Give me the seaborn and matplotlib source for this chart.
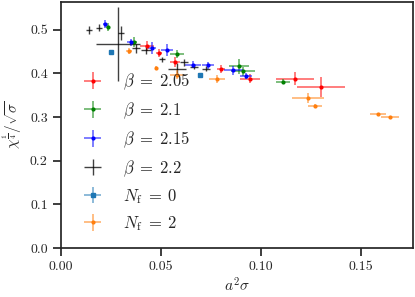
import numpy as np
import matplotlib
matplotlib.use("Agg")
import matplotlib.pyplot as plt
import matplotlib.colors as mcolors
import seaborn as sns

# === data ===
# beta = 2.05
x_205 = [0.043, 0.0488, 0.0571, 0.080, 0.0946, 0.117, 0.130]
y_205 = [0.463, 0.446, 0.426, 0.411, 0.388, 0.388, 0.369]
xe_205 = [0.0033, 0.0015, 0.0025, 0.002, 0.005, 0.0093, 0.0122]
ye_205 = [0.012, 0.009, 0.011, 0.009, 0.010, 0.015, 0.022]

# beta = 2.1
x_21 = [0.0234, 0.0367, 0.0578, 0.089, 0.091, 0.1109]
y_21 = [0.506, 0.472, 0.445, 0.416, 0.405, 0.381]
xe_21 = [0.001, 0.0015, 0.0035, 0.005, 0.006, 0.0035]
ye_21 = [0.010, 0.011, 0.009, 0.018, 0.010, 0.005]

# beta = 2.15
x_215 = [0.0219, 0.035, 0.0455, 0.0528, 0.066, 0.0733, 0.0862, 0.0925]
y_215 = [0.513, 0.471, 0.458, 0.454, 0.420, 0.419, 0.407, 0.394]
xe_215 = [0.001, 0.002, 0.002, 0.003, 0.004, 0.003, 0.0046, 0.003]
ye_215 = [0.009, 0.008, 0.013, 0.014, 0.008, 0.008, 0.010, 0.006]

# beta = 2.2
x_22 = [0.0142, 0.0192, 0.0285, 0.030, 0.0373, 0.0427, 0.0505, 0.0613, 0.058, 0.0667, 0.0725]
y_22 = [0.499, 0.505, 0.468, 0.493, 0.457, 0.454, 0.432, 0.426, 0.411, 0.415, 0.411]
xe_22 = [0.0015, 0.0015, 0.011, 0.0015, 0.002, 0.0025, 0.0015, 0.002, 0.0046, 0.002, 0.002]
ye_22 = [0.009, 0.009, 0.085, 0.016, 0.011, 0.010, 0.006, 0.008, 0.013, 0.006, 0.006]

# Nf = 0
x_nf0 = [0.025, 0.0693]
y_nf0 = [0.449, 0.396]
xe_nf0 = [0.0, 0.0]
ye_nf0 = [0.0, 0.0]

# Nf = 2
x_nf2 = [0.034, 0.0477, 0.058, 0.078, 0.1237, 0.127, 0.1583, 0.1644]
y_nf2 = [0.451, 0.413, 0.397, 0.388, 0.343, 0.325, 0.307, 0.300]
xe_nf2 = [0.0015, 0.0008, 0.0033, 0.004, 0.008, 0.0033, 0.004, 0.0045]
ye_nf2 = [0.006, 0.004, 0.010, 0.009, 0.011, 0.004, 0.003, 0.003]

sns.set_theme(style="ticks")
pal = sns.color_palette("tab10")
plt.rcParams["font.family"] = "serif"
plt.rcParams["font.serif"] = ["cmr10"]
plt.rcParams["mathtext.fontset"] = "cm"
plt.rcParams["axes.formatter.use_mathtext"] = True
plt.rcParams["font.size"] = 10
plt.rcParams["xtick.labelsize"] = 10
plt.rcParams["ytick.labelsize"] = 10
plt.rcParams["axes.labelsize"] = 10

series = [
    (x_205, y_205, xe_205, ye_205, "red", ".", r"$\beta\;=\;2.05$"),
    (x_21, y_21, xe_21, ye_21, "green", ".", r"$\beta\;=\;2.1$"),
    (x_215, y_215, xe_215, ye_215, "blue", ".", r"$\beta\;=\;2.15$"),
    (x_22, y_22, xe_22, ye_22, "black", "", r"$\beta\;=\;2.2$"),
    (x_nf0, y_nf0, xe_nf0, ye_nf0, pal[0], "s", r"$N_{\rm f}\;=\;0$"),
    (x_nf2, y_nf2, xe_nf2, ye_nf2, pal[1], ".", r"$N_{\rm f}\;=\;2$"),
]

fig = plt.figure(figsize=(4.15, 2.97), dpi=100)
ax = fig.add_axes([0.147, 0.165, 0.848, 0.829])

for x, y, xe, ye, c, m, lab in series:
    ms = 3 if m == "s" else 4
    if c == "black":
        ecol, lw = mcolors.to_rgba(c, 0.75), 1.0
    else:
        ecol, lw = mcolors.to_rgba(c, 0.55), 1.3
    ax.errorbar(x, y, xerr=xe, yerr=ye, fmt=m if m else "none", color=c, ms=ms,
                ecolor=ecol, elinewidth=lw, label=lab)

ax.set_xlim(0, 0.176)
ax.set_ylim(0, 0.564)
ax.set_xticks([0.0, 0.05, 0.10, 0.15])
ax.set_xticklabels(["0.00", "0.05", "0.10", "0.15"])
ax.set_yticks([0.0, 0.1, 0.2, 0.3, 0.4, 0.5])
ax.set_yticklabels(["0.0", "0.1", "0.2", "0.3", "0.4", "0.5"])
ax.set_xlabel(r"$a^2\sigma$", labelpad=2, fontsize=11)
ax.set_ylabel(r"$\chi^{\frac{1}{4}}/\sqrt{\sigma}$", labelpad=4, fontsize=11)
ax.legend(loc="lower left", frameon=False, fontsize=12)

fig.savefig("out.png", dpi=100)
